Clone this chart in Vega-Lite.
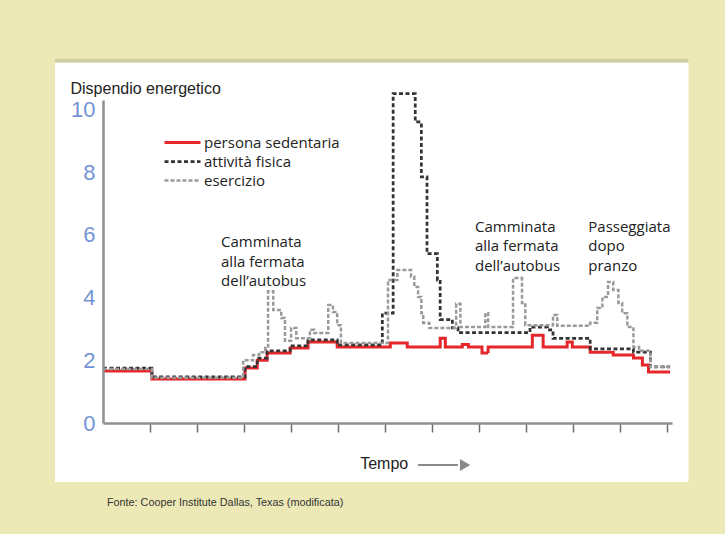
{
  "$schema": "https://vega.github.io/schema/vega-lite/v6.json",
  "width": 569,
  "height": 323,
  "autosize": {"type": "none"},
  "padding": {"left": 103, "top": 100, "right": 53, "bottom": 111},
  "background": "#ece9b6",
  "config": {"view": {"stroke": null}, "font": "Open Sans"},
  "datasets": {
    "panel": [{"t": -1.02, "t2": 12.45, "v": -1.88, "v2": 11.58}],
    "shadow": [{"t": -1.02, "t2": 12.45, "v": 11.55}],
    "series": [
      {"serie": "persona sedentaria", "t": 0, "v": 1.66},
      {"serie": "persona sedentaria", "t": 1.04, "v": 1.40},
      {"serie": "persona sedentaria", "t": 3.02, "v": 1.75},
      {"serie": "persona sedentaria", "t": 3.28, "v": 2.0},
      {"serie": "persona sedentaria", "t": 3.49, "v": 2.23},
      {"serie": "persona sedentaria", "t": 3.98, "v": 2.39},
      {"serie": "persona sedentaria", "t": 4.36, "v": 2.58},
      {"serie": "persona sedentaria", "t": 4.98, "v": 2.42},
      {"serie": "persona sedentaria", "t": 6.11, "v": 2.55},
      {"serie": "persona sedentaria", "t": 6.47, "v": 2.42},
      {"serie": "persona sedentaria", "t": 7.17, "v": 2.7},
      {"serie": "persona sedentaria", "t": 7.28, "v": 2.42},
      {"serie": "persona sedentaria", "t": 7.64, "v": 2.5},
      {"serie": "persona sedentaria", "t": 7.77, "v": 2.42},
      {"serie": "persona sedentaria", "t": 8.06, "v": 2.23},
      {"serie": "persona sedentaria", "t": 8.19, "v": 2.42},
      {"serie": "persona sedentaria", "t": 9.13, "v": 2.8},
      {"serie": "persona sedentaria", "t": 9.36, "v": 2.42},
      {"serie": "persona sedentaria", "t": 9.87, "v": 2.58},
      {"serie": "persona sedentaria", "t": 9.98, "v": 2.42},
      {"serie": "persona sedentaria", "t": 10.36, "v": 2.26},
      {"serie": "persona sedentaria", "t": 10.85, "v": 2.17},
      {"serie": "persona sedentaria", "t": 11.28, "v": 2.07},
      {"serie": "persona sedentaria", "t": 11.47, "v": 1.85},
      {"serie": "persona sedentaria", "t": 11.6, "v": 1.63},
      {"serie": "persona sedentaria", "t": 12.06, "v": 1.63},

      {"serie": "attività fisica", "t": 0, "v": 1.75},
      {"serie": "attività fisica", "t": 1.04, "v": 1.47},
      {"serie": "attività fisica", "t": 3.02, "v": 1.8},
      {"serie": "attività fisica", "t": 3.28, "v": 2.07},
      {"serie": "attività fisica", "t": 3.49, "v": 2.3},
      {"serie": "attività fisica", "t": 3.98, "v": 2.46},
      {"serie": "attività fisica", "t": 4.36, "v": 2.65},
      {"serie": "attività fisica", "t": 4.98, "v": 2.49},
      {"serie": "attività fisica", "t": 5.94, "v": 3.5},
      {"serie": "attività fisica", "t": 6.17, "v": 10.5},
      {"serie": "attività fisica", "t": 6.64, "v": 9.6},
      {"serie": "attività fisica", "t": 6.77, "v": 7.85},
      {"serie": "attività fisica", "t": 6.89, "v": 5.4},
      {"serie": "attività fisica", "t": 7.11, "v": 4.56},
      {"serie": "attività fisica", "t": 7.17, "v": 3.3},
      {"serie": "attività fisica", "t": 7.43, "v": 3.03},
      {"serie": "attività fisica", "t": 7.55, "v": 2.88},
      {"serie": "attività fisica", "t": 9.08, "v": 3.06},
      {"serie": "attività fisica", "t": 9.45, "v": 2.97},
      {"serie": "attività fisica", "t": 9.57, "v": 2.7},
      {"serie": "attività fisica", "t": 10.36, "v": 2.36},
      {"serie": "attività fisica", "t": 11.28, "v": 2.26},
      {"serie": "attività fisica", "t": 11.64, "v": 1.79},
      {"serie": "attività fisica", "t": 12.06, "v": 1.79},

      {"serie": "esercizio", "t": 0, "v": 1.72},
      {"serie": "esercizio", "t": 1.04, "v": 1.44},
      {"serie": "esercizio", "t": 2.98, "v": 2.0},
      {"serie": "esercizio", "t": 3.19, "v": 2.17},
      {"serie": "esercizio", "t": 3.32, "v": 2.26},
      {"serie": "esercizio", "t": 3.45, "v": 2.39},
      {"serie": "esercizio", "t": 3.51, "v": 4.2},
      {"serie": "esercizio", "t": 3.62, "v": 3.6},
      {"serie": "esercizio", "t": 3.79, "v": 3.35},
      {"serie": "esercizio", "t": 3.87, "v": 2.62},
      {"serie": "esercizio", "t": 4.0, "v": 3.03},
      {"serie": "esercizio", "t": 4.11, "v": 2.7},
      {"serie": "esercizio", "t": 4.4, "v": 2.97},
      {"serie": "esercizio", "t": 4.49, "v": 2.87},
      {"serie": "esercizio", "t": 4.79, "v": 3.76},
      {"serie": "esercizio", "t": 4.89, "v": 3.54},
      {"serie": "esercizio", "t": 4.98, "v": 3.12},
      {"serie": "esercizio", "t": 5.06, "v": 2.55},
      {"serie": "esercizio", "t": 6.06, "v": 4.56},
      {"serie": "esercizio", "t": 6.26, "v": 4.88},
      {"serie": "esercizio", "t": 6.55, "v": 4.66},
      {"serie": "esercizio", "t": 6.62, "v": 4.34},
      {"serie": "esercizio", "t": 6.7, "v": 4.02},
      {"serie": "esercizio", "t": 6.77, "v": 3.5},
      {"serie": "esercizio", "t": 6.81, "v": 3.19},
      {"serie": "esercizio", "t": 6.94, "v": 3.03},
      {"serie": "esercizio", "t": 7.51, "v": 3.8},
      {"serie": "esercizio", "t": 7.6, "v": 3.06},
      {"serie": "esercizio", "t": 8.13, "v": 3.5},
      {"serie": "esercizio", "t": 8.19, "v": 3.06},
      {"serie": "esercizio", "t": 8.72, "v": 4.62},
      {"serie": "esercizio", "t": 8.91, "v": 3.83},
      {"serie": "esercizio", "t": 8.98, "v": 3.12},
      {"serie": "esercizio", "t": 9.57, "v": 3.44},
      {"serie": "esercizio", "t": 9.66, "v": 3.1},
      {"serie": "esercizio", "t": 10.36, "v": 3.2},
      {"serie": "esercizio", "t": 10.51, "v": 3.67},
      {"serie": "esercizio", "t": 10.62, "v": 4.02},
      {"serie": "esercizio", "t": 10.74, "v": 4.5},
      {"serie": "esercizio", "t": 10.85, "v": 4.24},
      {"serie": "esercizio", "t": 10.96, "v": 3.83},
      {"serie": "esercizio", "t": 11.04, "v": 3.5},
      {"serie": "esercizio", "t": 11.15, "v": 3.06},
      {"serie": "esercizio", "t": 11.28, "v": 2.42},
      {"serie": "esercizio", "t": 11.4, "v": 2.3},
      {"serie": "esercizio", "t": 11.64, "v": 1.79},
      {"serie": "esercizio", "t": 12.06, "v": 1.79}
    ],
    "notes": [
      {"t": 2.51, "v": 5.77, "txt": "Camminata"},
      {"t": 2.51, "v": 5.13, "txt": "alla fermata"},
      {"t": 2.51, "v": 4.53, "txt": "dell’autobus"},
      {"t": 7.91, "v": 6.25, "txt": "Camminata"},
      {"t": 7.91, "v": 5.64, "txt": "alla fermata"},
      {"t": 7.91, "v": 5.01, "txt": "dell’autobus"},
      {"t": 10.32, "v": 6.25, "txt": "Passeggiata"},
      {"t": 10.32, "v": 5.64, "txt": "dopo"},
      {"t": 10.32, "v": 5.01, "txt": "pranzo"}
    ]
  },
  "encoding": {
    "x": {
      "field": "t", "type": "quantitative",
      "scale": {"domain": [0, 12.1], "nice": false, "zero": false},
      "axis": {"values": [1, 2, 3, 4, 5, 6, 7, 8, 9, 10, 11, 12], "labels": false, "grid": false, "title": null,
               "tickColor": "#6f6f6f", "tickSize": 9, "tickWidth": 1.5,
               "domainColor": "#8f8f8f", "domainWidth": 2.5, "zindex": 1}
    },
    "y": {
      "field": "v", "type": "quantitative",
      "scale": {"domain": [0, 10.3], "nice": false, "zero": false},
      "axis": {"values": [0, 2, 4, 6, 8, 10], "ticks": false, "grid": false,
               "domainColor": "#8f8f8f", "domainWidth": 2.5,
               "labelFont": "Liberation Sans", "labelFontSize": 22, "labelColor": "#7394d4", "labelPadding": 8,
               "title": "Dispendio energetico", "titleAngle": 0, "titleAlign": "left", "titleBaseline": "alphabetic",
               "titleX": -33, "titleY": -7, "titleFont": "Liberation Sans", "titleFontSize": 16,
               "titleFontWeight": "normal", "titleColor": "#222222", "zindex": 1}
    }
  },
  "layer": [
    {
      "data": {"name": "panel"},
      "mark": {"type": "rect", "fill": "white"},
      "encoding": {"x2": {"field": "t2"}, "y2": {"field": "v2"}}
    },
    {
      "data": {"name": "shadow"},
      "mark": {"type": "rule", "color": "#d2cfa6", "strokeWidth": 4},
      "encoding": {"x2": {"field": "t2"}}
    },
    {
      "data": {"name": "series"},
      "mark": {"type": "line", "interpolate": "step-after", "strokeCap": "butt"},
      "encoding": {
        "color": {
          "field": "serie", "type": "nominal",
          "scale": {"domain": ["persona sedentaria", "attività fisica", "esercizio"], "range": ["#e5262b", "#333333", "#9a9a9a"]},
          "legend": {"title": null, "orient": "none", "legendX": 72, "legendY": 35, "symbolType": "M-3,0H3",
                     "symbolSize": 144, "labelOffset": 14, "rowPadding": 3, "labelFontSize": 15, "labelFont": "Open Sans",
                     "labelColor": "#222222", "padding": 0, "zindex": 1}
        },
        "strokeDash": {
          "field": "serie", "type": "nominal",
          "scale": {"domain": ["persona sedentaria", "attività fisica", "esercizio"], "range": [[1, 0], [4, 2.5], [4, 2]]},
          "legend": {"title": null, "orient": "none", "legendX": 72, "legendY": 35, "symbolType": "M-3,0H3",
                     "symbolSize": 144, "labelOffset": 14, "rowPadding": 3, "labelFontSize": 15, "labelFont": "Open Sans",
                     "labelColor": "#222222", "padding": 0, "zindex": 1}
        },
        "strokeWidth": {
          "field": "serie", "type": "nominal",
          "scale": {"domain": ["persona sedentaria", "attività fisica", "esercizio"], "range": [3, 2.5, 1.1]},
          "legend": {"title": null, "orient": "none", "legendX": 72, "legendY": 35, "symbolType": "M-3,0H3",
                     "symbolSize": 144, "labelOffset": 14, "rowPadding": 3, "labelFontSize": 15, "labelFont": "Open Sans",
                     "labelColor": "#222222", "padding": 0, "zindex": 1}
        }
      }
    },
    {
      "data": {"name": "notes"},
      "mark": {"type": "text", "align": "left", "baseline": "middle", "font": "Open Sans", "fontSize": 15, "color": "#222222"},
      "encoding": {"text": {"field": "txt"}}
    },
    {
      "data": {"values": [{"t": 5.47, "v": -1.3, "txt": "Tempo"}]},
      "mark": {"type": "text", "align": "left", "baseline": "middle", "font": "Liberation Sans", "fontSize": 16, "color": "#222222"},
      "encoding": {"text": {"field": "txt"}}
    },
    {
      "data": {"values": [{"t": 6.70, "t2": 7.55, "v": -1.34}]},
      "mark": {"type": "rule", "color": "#8a8a8a", "strokeWidth": 2},
      "encoding": {"x2": {"field": "t2"}}
    },
    {
      "data": {"values": [{"t": 7.70, "v": -1.34}]},
      "mark": {"type": "point", "shape": "triangle-right", "filled": true, "size": 140, "color": "#8a8a8a", "opacity": 1}
    },
    {
      "data": {"values": [{"t": 0.085, "v": -2.55, "txt": "Fonte: Cooper Institute Dallas, Texas (modificata)"}]},
      "mark": {"type": "text", "align": "left", "baseline": "middle", "font": "Liberation Sans", "fontSize": 10.8, "color": "#333333"},
      "encoding": {"text": {"field": "txt"}}
    }
  ]
}
